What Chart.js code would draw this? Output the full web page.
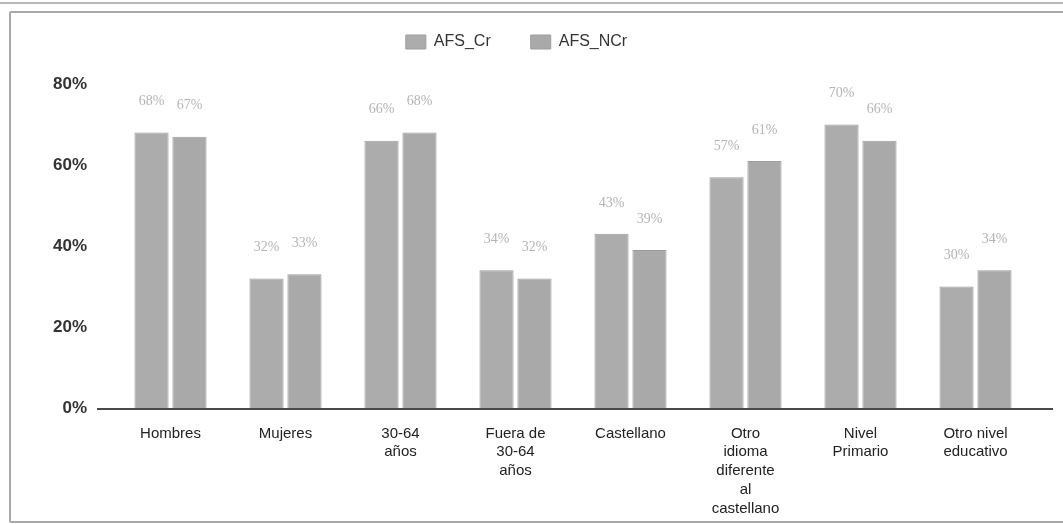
<!DOCTYPE html>
<html>
<head>
<meta charset="utf-8">
<script src="https://cdn.jsdelivr.net/npm/chart.js@4"></script>
<style>
    html, body { margin: 0; padding: 0; background: #fff; }
    #wrap { position: relative; width: 1063px; height: 524px; overflow: hidden; }
    #topLine { position: absolute; left: 0; top: 2px; width: 1063px; height: 0; border-top: 2px solid #b8b8b8; }
    #frame { position: absolute; left: 9px; top: 11px; width: 1060px; height: 508px; border: 2px solid #a8a8a8; border-radius: 2px; }
    canvas { position: absolute; left: 0; top: 0; }
</style>
</head>
<body>
<div id="wrap">
    <div id="topLine"></div>
    <div id="frame"></div>
    <canvas id="chart" width="1063" height="524"></canvas>
</div>
<script>
// datos
const categories = [
    'Hombres',
    'Mujeres',
    ['30-64', 'años'],
    ['Fuera de', '30-64', 'años'],
    'Castellano',
    ['Otro', 'idioma', 'diferente', 'al', 'castellano'],
    ['Nivel', 'Primario'],
    ['Otro nivel', 'educativo']
];
const afsCr = [68, 32, 66, 34, 43, 57, 70, 30];
const afsNCr = [67, 33, 68, 32, 39, 61, 66, 34];
const yTicks = [0, 20, 40, 60, 80];

// etiquetas encima de cada barra
const barLabels = {
    id: 'barLabels',
    afterDatasetsDraw(chart) {
        const ctx = chart.ctx;
        ctx.save();
        ctx.font = '14px "Liberation Serif", serif';
        ctx.fillStyle = '#b4b4b4';
        ctx.textAlign = 'center';
        ctx.textBaseline = 'middle';
        chart.data.datasets.forEach((ds, i) => {
            chart.getDatasetMeta(i).data.forEach((bar, j) => {
                ctx.fillText(ds.data[j] + '%', bar.x, bar.y - 31);
            });
        });
        ctx.restore();
    }
};

// línea del eje x, un poco más larga que el área
const axisLine = {
    id: 'axisLine',
    afterDatasetsDraw(chart) {
        const a = chart.chartArea;
        const ctx = chart.ctx;
        ctx.save();
        ctx.strokeStyle = '#4a4a4a';
        ctx.lineWidth = 2;
        ctx.beginPath();
        ctx.moveTo(a.left - 16, a.bottom + 1);
        ctx.lineTo(a.right + 20, a.bottom + 1);
        ctx.stroke();
        ctx.restore();
    }
};

// ajuste de la altura de la leyenda
const legendSpace = {
    id: 'legendSpace',
    afterInit(chart) {
        const lg = chart.legend;
        if (!lg) return;
        const fit = lg.fit.bind(lg);
        lg.fit = function () {
            fit();
            this.height += 24;
        };
    }
};

const ctx = document.getElementById('chart').getContext('2d');
new Chart(ctx, {
    type: 'bar',
    data: {
        labels: categories,
        datasets: [{
            label: 'AFS_Cr',
            data: afsCr,
            backgroundColor: '#acacac',
            borderColor: '#9d9d9d',
            borderWidth: 1
        }, {
            label: 'AFS_NCr',
            data: afsNCr,
            backgroundColor: '#a9a9a9',
            borderColor: '#9d9d9d',
            borderWidth: 1
        }]
    },
    options: {
        responsive: false,
        animation: false,
        layout: {
            padding: { top: -6, left: 0, right: 30, bottom: 0 }
        },
        datasets: {
            bar: {
                categoryPercentage: 0.66,
                barPercentage: 0.9
            }
        },
        scales: {
            x: {
                grid: { display: false },
                border: { display: false },
                afterFit(scale) {
                    scale.height = 116;
                },
                ticks: {
                    color: '#222',
                    font: { family: '"Liberation Sans", Arial, sans-serif', size: 15, lineHeight: 1.25 },
                    padding: 8,
                    maxRotation: 0,
                    autoSkip: false
                }
            },
            y: {
                min: 0,
                max: 80,
                grid: { display: false },
                border: { display: false },
                afterBuildTicks(scale) {
                    scale.ticks = yTicks.map(v => ({ value: v }));
                },
                afterFit(scale) {
                    scale.width = 113;
                },
                ticks: {
                    color: '#333',
                    font: { family: '"Liberation Sans", Arial, sans-serif', size: 17, weight: 'bold' },
                    padding: 18,
                    callback: v => v + '%'
                }
            }
        },
        plugins: {
            legend: {
                display: true,
                position: 'top',
                labels: {
                    boxWidth: 20,
                    boxHeight: 14,
                    padding: 40,
                    color: '#333',
                    font: { family: '"Liberation Sans", Arial, sans-serif', size: 16 }
                }
            },
            tooltip: { enabled: false }
        }
    },
    plugins: [barLabels, axisLine, legendSpace]
});
</script>
</body>
</html>
